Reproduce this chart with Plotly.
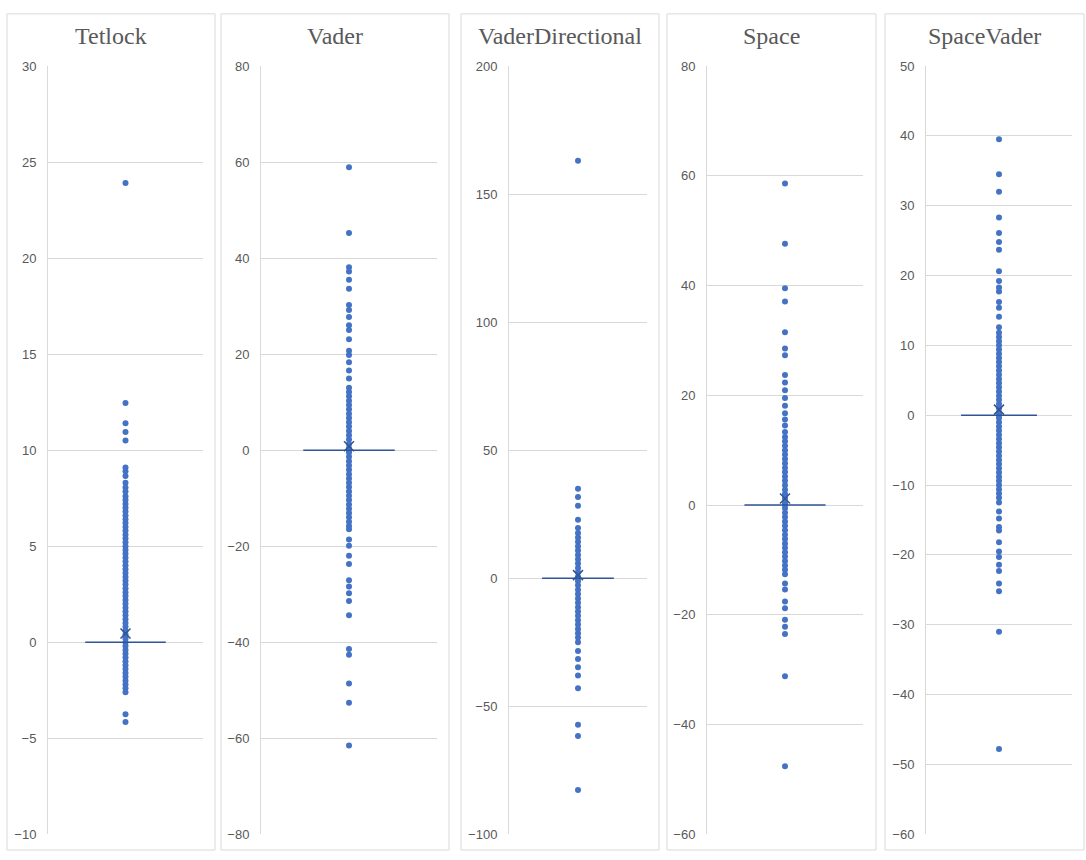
import plotly.graph_objects as go

W, H = 1086, 860

titles = ["Tetlock", "Vader", "VaderDirectional", "Space", "SpaceVader"]

tetlock = [23.9, 12.45, 11.4, 10.95, 10.5, 9.1, 8.9, 8.65, 8.3, 8.05, 7.85, 7.6, 7.4,
           7.2, 7.0, 6.8, 6.6, 6.4, 6.2, 6.0, 5.8, 5.6, 5.4, 5.2, 5.0, 4.8, 4.6, 4.4,
           4.2, 4.0, 3.8, 3.6, 3.4, 3.2, 3.0, 2.8, 2.6, 2.4, 2.2, 2.0, 1.8, 1.6, 1.4,
           1.2, 1.0, 0.8, 0.6, 0.4, 0.2, 0.0, -0.2, -0.4, -0.6, -0.8, -1.0, -1.2,
           -1.4, -1.6, -1.8, -2.0, -2.2, -2.4, -2.6, -3.75, -4.15]

vader = [58.9, 45.2, 38.1, 37.2, 35.5, 33.6, 30.2, 29.2, 27.7, 26.0, 25.0, 23.1, 20.7,
         19.8, 18.3, 16.6, 14.9, 13.0, 12.1, 11.2, 10.3, 9.4, 8.5, 7.6, 6.7, 5.8, 4.9,
         4.0, 3.1, 2.2, 1.3, 0.4, 0.0, -0.5, -1.4, -2.3, -3.2, -4.1, -5.0, -5.9, -6.8,
         -7.7, -8.6, -9.5, -10.4, -11.3, -12.2, -13.1, -14.0, -14.9, -15.8, -16.5,
         -18.6, -19.9, -22.0, -23.7, -27.1, -28.4, -29.8, -31.4, -34.4, -41.4, -42.6,
         -48.6, -52.6, -61.5]

vader_directional = [163.0, 34.9, 31.7, 28.3, 22.8, 19.6, 17.6, 15.9, 14.2, 12.5, 10.8,
                     9.1, 7.4, 5.7, 4.0, 2.3, 0.6, 0.0, -1.1, -2.8, -4.5, -6.2, -7.9,
                     -9.6, -11.3, -13.0, -14.7, -16.4, -18.1, -19.8, -21.5, -23.2,
                     -25.0, -28.4, -31.6, -34.8, -38.0, -43.0, -57.2, -61.6, -82.7]

space = [58.6, 47.6, 39.5, 37.1, 31.5, 28.5, 27.3, 23.7, 22.3, 20.9, 19.5, 18.1, 16.7,
         15.6, 14.5, 13.3, 12.4, 11.6, 10.8, 10.0, 9.2, 8.4, 7.6, 6.8, 6.0, 5.2, 4.4,
         3.6, 2.8, 2.0, 1.2, 0.4, 0.0, -0.6, -1.4, -2.2, -3.0, -3.8, -4.6, -5.4, -6.2,
         -7.0, -7.8, -8.6, -9.4, -10.2, -11.0, -11.8, -12.6, -14.3, -15.4, -17.6,
         -18.8, -20.9, -22.2, -23.5, -31.2, -47.6]

space_vader = [39.5, 34.5, 32.0, 28.3, 26.1, 24.8, 23.7, 20.6, 19.2, 18.3, 17.7, 16.2,
               15.4, 14.1, 12.6, 11.8, 11.2, 10.6, 10.0, 9.4, 8.8, 8.2, 7.6, 7.0, 6.4,
               5.8, 5.2, 4.6, 4.0, 3.4, 2.8, 2.2, 1.6, 1.0, 0.4, 0.0, -0.4, -1.0, -1.6,
               -2.2, -2.8, -3.4, -4.0, -4.6, -5.2, -5.8, -6.4, -7.0, -7.6, -8.2, -8.8,
               -9.4, -10.0, -10.6, -11.2, -11.8, -12.5, -13.8, -14.8, -16.0, -16.5,
               -18.2, -19.5, -20.3, -21.4, -22.3, -24.1, -25.2, -31.0, -47.8]

series = [tetlock, vader, vader_directional, space, space_vader]
medians = [0, 0, 0, 0, 0]
means = [0.45, 0.8, 1.2, 1.2, 0.8]

y_ranges = [(-10, 30), (-80, 80), (-100, 200), (-60, 80), (-60, 50)]
y_dticks = [5, 20, 50, 20, 10]

# layout geometry (pixels)
panel_boxes = [(7, 215), (221, 449), (461, 659), (667, 876), (885, 1084)]
plot_x = [(48, 203), (261, 437), (509, 647), (707, 863), (926, 1072)]
panel_top, panel_bottom = 7, 858
plot_top, plot_bottom = 60, 842

POINT = "#4472c4"
LINE = "#2f5597"
GRID = "#d9d9d9"
TXT = "#595959"

fig = go.Figure()
layout = dict(
    width=W, height=H, autosize=False,
    margin=dict(l=0, r=0, t=0, b=0),
    paper_bgcolor="white", plot_bgcolor="white",
    showlegend=False, shapes=[], annotations=[],
)

for i in range(5):
    n = "" if i == 0 else str(i + 1)
    xa, ya = "x" + n, "y" + n
    vals = series[i]
    fig.add_trace(go.Scatter(
        x=[0.5] * len(vals), y=vals, mode="markers",
        marker=dict(color=POINT, size=6), xaxis=xa, yaxis=ya, cliponaxis=False))
    fig.add_trace(go.Scatter(
        x=[0.24, 0.76], y=[medians[i], medians[i]], mode="lines",
        line=dict(color=LINE, width=1.5), xaxis=xa, yaxis=ya))
    fig.add_trace(go.Scatter(
        x=[0.5], y=[means[i]], mode="markers",
        marker=dict(symbol="x-thin", size=10, line=dict(color=LINE, width=1.5),
                    color=LINE),
        xaxis=xa, yaxis=ya))

    x0, x1 = plot_x[i]
    layout["xaxis" + n] = dict(
        domain=[x0 / W, x1 / W], range=[0, 1], visible=False, fixedrange=True,
        anchor=ya)
    layout["yaxis" + n] = dict(
        domain=[1 - plot_bottom / H, 1 - plot_top / H], range=list(y_ranges[i]),
        dtick=y_dticks[i], tick0=0, showgrid=True, gridcolor=GRID, gridwidth=1,
        zeroline=False, showline=True, linecolor=GRID, linewidth=1,
        ticks="", ticklabelstandoff=8, anchor=xa,
        tickfont=dict(family="Liberation Sans, Arial, sans-serif", size=13, color=TXT))

    bx0, bx1 = panel_boxes[i]
    layout["shapes"].append(dict(
        type="rect", xref="paper", yref="paper",
        x0=bx0 / W, x1=bx1 / W, y0=1 - panel_bottom / H, y1=1 - panel_top / H,
        line=dict(color=GRID, width=1), fillcolor="rgba(0,0,0,0)", layer="below"))
    layout["annotations"].append(dict(
        text=titles[i], xref="paper", yref="paper",
        x=(bx0 + bx1) / 2 / W, y=1 - 30 / H, xanchor="center", yanchor="middle",
        showarrow=False,
        font=dict(family="Liberation Serif, Times New Roman, serif", size=24, color=TXT)))

fig.update_layout(**layout)
fig.write_html("out.html", config={"displayModeBar": False})

# remove the default page margin so the figure sits at the window origin
with open("out.html", "r", encoding="utf-8") as f:
    html = f.read()
html = html.replace("<head>", "<head><style>html,body{margin:0;padding:0;overflow:hidden;}</style>", 1)
with open("out.html", "w", encoding="utf-8") as f:
    f.write(html)
